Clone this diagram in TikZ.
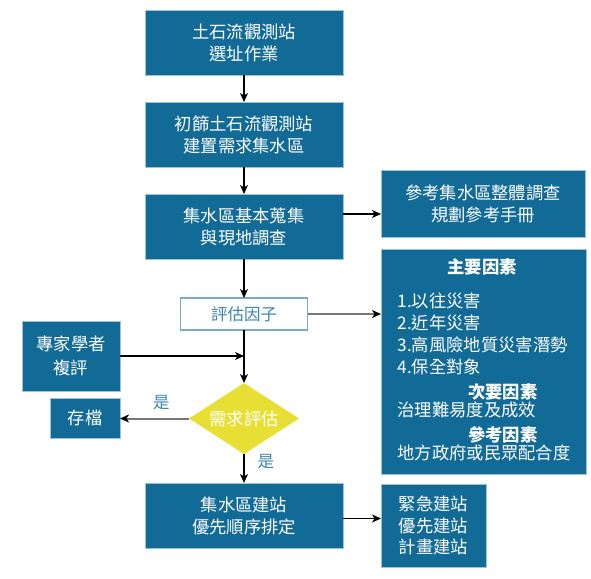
\documentclass[tikz,border=0pt]{standalone}
\usepackage{fontspec}
\setmainfont{Noto Sans CJK TC}
\usetikzlibrary{positioning, shapes.geometric, arrows.meta}
\definecolor{boxblue}{HTML}{126B97}
\definecolor{boxedge}{HTML}{9CC2D6}
\definecolor{factoredge}{HTML}{7AABC8}
\definecolor{labelblue}{HTML}{3A85B2}
\definecolor{diamondyellow}{HTML}{E8DF35}
\definecolor{linegray}{HTML}{777777}
\tikzset{every picture/.style={line width=1.1pt}}

\begin{document}
\begin{tikzpicture}[x=1pt, y=-1pt, font=\fontsize{17.3}{22}\selectfont,
    bluebox/.style={draw=boxedge, line width=0.8pt, fill=boxblue, text=white, align=center, inner sep=0pt, outer sep=0pt},
    mainbox/.style={bluebox, minimum width=198pt, minimum height=65pt},
    boxtext/.style={text=white, inner sep=0pt, align=left},
    arr/.style={-{Stealth[length=9pt, width=8pt, inset=2.5pt]}},
    grayarr/.style={draw=linegray, line width=2pt, -{Stealth[length=9pt, width=8pt, inset=2.5pt, color=black]}},
    yeslabel/.style={text=labelblue, inner sep=0pt, font=\fontsize{16.5}{20}\selectfont}]
  \useasboundingbox (0,0) rectangle (591,578);

  % main column
  \node[mainbox] (site) at (244,42.5) {土石流觀測站\\選址作業};
  \node[mainbox, below=27pt of site] (screen) {初篩土石流觀測站\\建置需求集水區};
  \node[mainbox, below=27pt of screen] (survey) {集水區基本蒐集\\與現地調查};
  \node[draw=factoredge, line width=1.5pt, fill=white, text=labelblue, font=\fontsize{16.5}{20}\selectfont, minimum width=127pt, minimum height=32pt, inner sep=0pt, outer sep=0pt, below=39pt of survey] (factor) {評估因子};
  \node[diamond, fill=diamondyellow, text=white, aspect=1.55, minimum width=110pt, minimum height=71pt, inner sep=0pt, outer sep=0pt, below=53pt of factor] (demand) {需求評估};
  \node[mainbox, below=29pt of demand] (rank) {集水區建站\\優先順序排定};

  % side boxes
  \node[bluebox, minimum width=204pt, minimum height=67pt] (manual) at (483,203.5) {參考集水區整體調查\\規劃參考手冊};
  \node[bluebox, minimum width=205pt, minimum height=225pt] (factors) at (483.5,361.5) {};
  \node[bluebox, minimum width=105pt, minimum height=83pt, font=\fontsize{17.3}{21.5}\selectfont] (stations) at (433.5,525.5) {緊急建站\\優先建站\\計畫建站};
  \node[bluebox, minimum width=98pt, minimum height=70pt, font=\fontsize{17.3}{24}\selectfont] (expert) at (71,356) {專家學者\\複評};
  \node[bluebox, minimum width=70pt, minimum height=40pt] (archive) at (85,418) {存檔};

  % text of the factors box
  \node[boxtext, font=\fontsize{17.3}{22}\bfseries] (mainhead) at (482,267) {主要因素};
  \node[boxtext, anchor=west] (mainlist) at (397,334) {1.以往災害\\2.近年災害\\3.高風險地質災害潛勢\\4.保全對象};
  \node[boxtext, anchor=east, font=\fontsize{17.3}{22}\bfseries] (minorhead) at (538,392) {次要因素};
  \node[boxtext, anchor=west] (minorlist) at (397,410) {治理難易度及成效};
  \node[boxtext, anchor=east, font=\fontsize{17.3}{22}\bfseries] (refhead) at (538,435) {參考因素};
  \node[boxtext, anchor=west] (reflist) at (397,453) {地方政府或民眾配合度};

  \draw[arr] (site) -- (screen);
  \draw[arr] (screen) -- (survey);
  \draw[arr] ([yshift=12.5pt]survey.east) -- ([yshift=12.5pt]survey.east -| manual.west);
  \draw[arr] (survey) -- (factor);
  \draw[grayarr] (factor.east) -- (factor.east -| factors.west);
  \draw[arr] (factor) -- (demand);
  \draw[arr] (expert.east) -- (expert.east -| demand.north);
  \draw[grayarr] (demand.west) -- node[yeslabel, above=7.5pt, pos=0.4]{是} (demand.west -| archive.east);
  \draw[arr] (demand) -- node[yeslabel, right=13pt, pos=0.25]{是} (rank);
  \draw[arr] ([yshift=-3pt]rank.east) -- ([yshift=-3pt]rank.east -| stations.west);
\end{tikzpicture}
\end{document}
